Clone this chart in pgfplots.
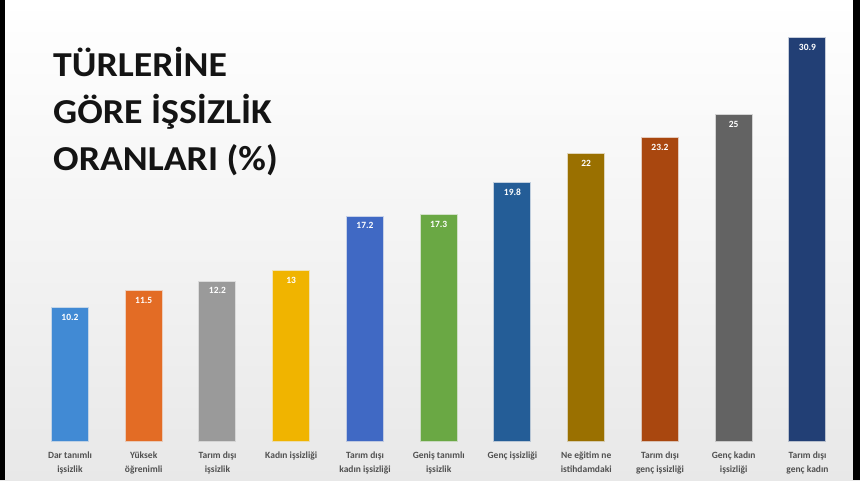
\documentclass[border=0pt]{standalone}
\usepackage{fontspec}
\setmainfont{Carlito}
\newfontfamily\titlefont[FakeStretch=1.08]{Carlito}
\usepackage{pgfplots}
\pgfplotsset{compat=1.18}

\definecolor{c1}{HTML}{418AD4}
\definecolor{c2}{HTML}{E36C25}
\definecolor{c3}{HTML}{9A9A9A}
\definecolor{c4}{HTML}{F0B400}
\definecolor{c5}{HTML}{4069C4}
\definecolor{c6}{HTML}{6AA844}
\definecolor{c7}{HTML}{245D97}
\definecolor{c8}{HTML}{9A7000}
\definecolor{c9}{HTML}{A9470F}
\definecolor{c10}{HTML}{636363}
\definecolor{c11}{HTML}{223F75}
\definecolor{lbl}{HTML}{505050}

\begin{document}
\begin{tikzpicture}[x=1pt,y=1pt]
% background and the black side strips of the screenshot
\shade[top color=white, bottom color=black!9] (0,0) rectangle (860,480);
\fill[black] (0,0) rectangle (5,480);
\fill[black] (853,0) rectangle (860,480);

% title
\begin{scope}[every node/.style={anchor=base west, inner sep=0pt,
    font=\titlefont\bfseries\fontsize{35}{40}\selectfont, text=black!92}]
  \node at (53,403) {TÜRLERİNE};
  \node at (53,356) {GÖRE İŞSİZLİK};
  \node at (53,309) {ORANLARI (\%)};
\end{scope}

\begin{axis}[
    at={(33.1pt,39pt)}, anchor=south west,
    scale only axis,
    width=811.25pt, height=417.3pt,
    xmin=-0.5, xmax=10.5,
    ymin=0, ymax=32,
    axis line style={draw=none},
    tick style={draw=none},
    ytick=\empty,
    xtick={0,1,2,3,4,5,6,7,8,9,10},
    xticklabels={
        Dar tanımlı\\işsizlik,
        Yüksek\\öğrenimli,
        Tarım dışı\\işsizlik,
        Kadın işsizliği,
        Tarım dışı\\kadın işsizliği,
        Geniş tanımlı\\işsizlik,
        Genç işsizliği,
        Ne eğitim ne\\istihdamdaki,
        Tarım dışı\\genç işsizliği,
        Genç kadın\\işsizliği,
        Tarım dışı\\genç kadın},
    xticklabel style={align=center, text=lbl, yshift=-7pt,
        font=\bfseries\fontsize{9.5}{14}\selectfont},
    clip=false,
    /pgf/number format/assume math mode=true,
    nodes near coords,
    every node near coord/.append style={anchor=north, text=white,
        font=\bfseries\fontsize{9.5}{9.5}\selectfont, yshift=-1.5pt},
    every axis plot/.append style={
        ybar, bar width=36pt, bar shift=0pt,
        draw opacity=0.25, line width=2pt},
    ]
    \addplot[fill=c1, draw=c1] coordinates {(0,10.2)};
    \addplot[fill=c2, draw=c2] coordinates {(1,11.5)};
    \addplot[fill=c3, draw=c3] coordinates {(2,12.2)};
    \addplot[fill=c4, draw=c4] coordinates {(3,13)};
    \addplot[fill=c5, draw=c5] coordinates {(4,17.2)};
    \addplot[fill=c6, draw=c6] coordinates {(5,17.3)};
    \addplot[fill=c7, draw=c7] coordinates {(6,19.8)};
    \addplot[fill=c8, draw=c8] coordinates {(7,22)};
    \addplot[fill=c9, draw=c9] coordinates {(8,23.2)};
    \addplot[fill=c10, draw=c10] coordinates {(9,25)};
    \addplot[fill=c11, draw=c11] coordinates {(10,30.9)};
\end{axis}
\end{tikzpicture}
\end{document}
